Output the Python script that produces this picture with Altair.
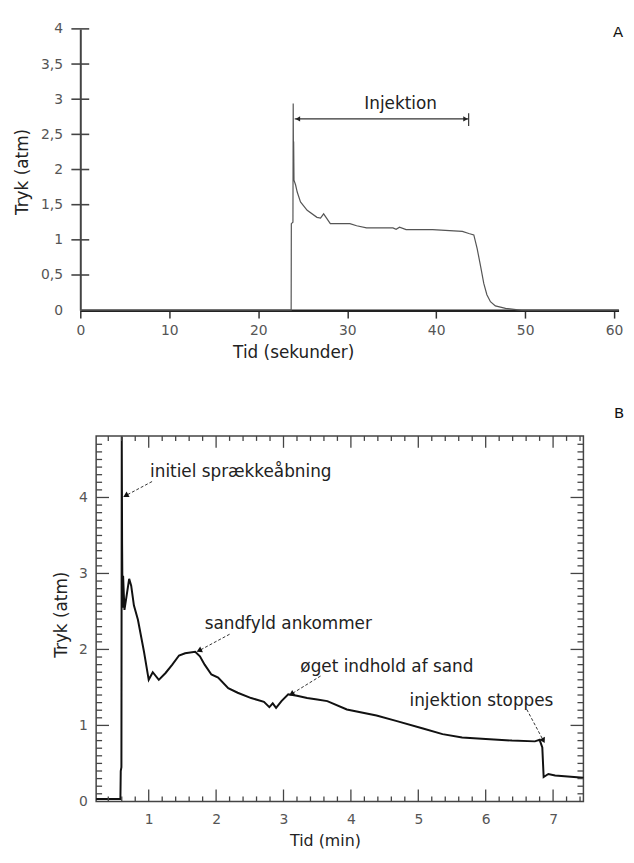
import altair as alt
import pandas as pd

# ---------------- Panel A : pressure (atm) vs time (s) ----------------
a_time = [0, 23.70, 23.72, 23.90, 23.93, 23.96, 23.98, 24.02, 24.2, 24.38, 24.75, 25.5, 26.6, 27.0,
          27.35, 28.1, 30.3, 31.06, 32.17, 35.14, 35.5, 35.88, 36.62, 39.6, 42.94, 43.67, 44.23,
          44.6, 45.0, 45.35, 45.7, 46.1, 46.65, 47.8, 49.2, 49.6, 60.5]
a_pressure = [0, 0, 1.23, 1.25, 2.94, 2.10, 2.40, 1.85, 1.78, 1.68, 1.54, 1.42, 1.32, 1.31,
              1.37, 1.23, 1.23, 1.20, 1.17, 1.17, 1.15, 1.18, 1.145, 1.145, 1.12, 1.09, 1.07,
              0.88, 0.62, 0.38, 0.22, 0.12, 0.06, 0.025, 0.005, 0, 0]
a_xticks = [0, 10, 20, 30, 40, 50, 60]
a_ylabels = [0, 0.5, 1, 1.5, 2, 2.5, 3, 3.5, 4]
a_yticks = [0.5, 1, 1.5, 2, 2.5, 3, 3.5, 4]
a_inj_start, a_inj_end, a_inj_level = 24.1, 43.65, 2.72
a_inj_text = "Injektion"
a_inj_text_t, a_inj_text_p = 36.0, 2.93
a_bar_low, a_bar_high = 2.62, 2.80

# ---------------- Panel B : pressure (atm) vs time (min) ----------------
b_time = [0.22, 0.58, 0.585, 0.595, 0.60, 0.605, 0.612, 0.62, 0.64, 0.71, 0.74, 0.78, 0.84, 0.93,
          1.0, 1.06, 1.15, 1.25, 1.35, 1.45, 1.54, 1.69, 1.76, 1.83, 1.93, 2.03, 2.18, 2.32, 2.52,
          2.71, 2.79, 2.84, 2.89, 2.97, 3.07, 3.2, 3.35, 3.5, 3.65, 3.94, 4.38, 4.67, 5.07, 5.36,
          5.65, 6.0, 6.39, 6.73, 6.80, 6.84, 6.86, 6.93, 7.03, 7.45]
b_pressure = [0.03, 0.03, 0.4, 0.45, 4.8, 3.4, 2.55, 2.97, 2.52, 2.93, 2.84, 2.58, 2.39, 1.97,
              1.60, 1.70, 1.60, 1.69, 1.80, 1.92, 1.95, 1.97, 1.91, 1.80, 1.67, 1.63, 1.49, 1.43, 1.36,
              1.31, 1.24, 1.29, 1.23, 1.32, 1.41, 1.39, 1.36, 1.34, 1.32, 1.21, 1.13, 1.06, 0.96, 0.885,
              0.84, 0.82, 0.80, 0.79, 0.81, 0.71, 0.32, 0.36, 0.34, 0.31]
b_xmajor = [1, 2, 3, 4, 5, 6, 7]
b_xminor = [0.4, 0.6, 0.8, 1.2, 1.4, 1.6, 1.8, 2.2, 2.4, 2.6, 2.8, 3.2, 3.4, 3.6, 3.8,
            4.2, 4.4, 4.6, 4.8, 5.2, 5.4, 5.6, 5.8, 6.2, 6.4, 6.6, 6.8, 7.2, 7.4]
b_ymajor = [0, 1, 2, 3, 4]
b_yminor = [round(0.1 * i, 1) for i in range(1, 48) if i % 10 != 0]

b_notes = ["initiel sprækkeåbning", "sandfyld ankommer", "øget indhold af sand", "injektion stoppes"]
b_note_t = [1.02, 1.83, 3.25, 4.87]
b_note_p = [4.34, 2.34, 1.77, 1.32]
b_arrow_t1 = [1.05, 2.20, 3.55, 6.61]
b_arrow_p1 = [4.21, 2.20, 1.65, 1.21]
b_arrow_t2 = [0.67, 1.76, 3.13, 6.85]
b_arrow_p2 = [4.03, 1.99, 1.42, 0.81]
b_arrow_angle = [242, 244, 238, 152]

# ---------------- layout (pixels inside the single view) ----------------
W, H = 624, 843
FONT = "DejaVu Sans"
A_L, A_R60, A_T, A_B = 73, 612, 17, 301        # x of 0 and 60 s; y of 4 and 0 atm
B_L, B_R, B_T, B_B = 89, 581, 428, 797          # panel B frame
B_XDOM = [0.22, 7.45]
B_YDOM = [0, 4.81]
A_XDOM = [0, 60.5]
A_XR = [A_L, A_L + (A_R60 - A_L) * 60.5 / 60]


def xa(axis=None):
    return alt.X("t:Q", scale=alt.Scale(domain=A_XDOM, range=A_XR, nice=False, zero=False), axis=axis)


def ya(axis=None):
    return alt.Y("p:Q", scale=alt.Scale(domain=[0, 4], range=[A_B, A_T], nice=False, zero=False), axis=axis)


def xb(axis=None):
    return alt.X("t:Q", scale=alt.Scale(domain=B_XDOM, range=[B_L, B_R], nice=False, zero=False), axis=axis)


def yb(axis=None):
    return alt.Y("p:Q", scale=alt.Scale(domain=B_YDOM, range=[B_B, B_T], nice=False, zero=False), axis=axis)


one = pd.DataFrame({"k": [0]})
layers = []

# ======================= Panel A =======================
axA_x = alt.Axis(orient="bottom", offset=-(H - A_B), values=a_xticks, format="d",
                 title="Tid (sekunder)", tickSize=8, tickColor="#333", tickWidth=1.5,
                 domainColor="#222", domainWidth=2.5, labelPadding=6, labelFlush=False,
                 grid=False, titleX=288, titleY=43, titleBaseline="middle", titleAlign="center")
axA_y = alt.Axis(orient="left", offset=-A_L, values=a_ylabels,
                 labelExpr="replace(format(datum.value, '~g'), '.', ',')",
                 ticks=False, domainColor="#444", domainWidth=2,
                 labelPadding=18, grid=False, title="Tryk (atm)", titleX=-58, titleY=161,
                 titleBaseline="middle", titleAlign="center")

dfA = pd.DataFrame({"t": a_time, "p": a_pressure, "i": list(range(len(a_time)))})
layers.append(alt.Chart(dfA).mark_line(color="#555", strokeWidth=1.2).encode(
    x=xa(axA_x), y=ya(axA_y), order="i:Q"))

# crossing y ticks of panel A
layers.append(alt.Chart(pd.DataFrame({"p": a_yticks})).mark_rule(color="#444", strokeWidth=1.6).encode(
    y=ya(), x=alt.value(A_L - 9), x2=alt.value(A_L + 9)))

# injection arrow
layers.append(alt.Chart(pd.DataFrame({"t": [a_inj_start], "t2": [a_inj_end], "p": [a_inj_level]})).mark_rule(
    color="#333", strokeWidth=1.2).encode(x=xa(), x2=alt.X2("t2"), y=ya()))
layers.append(alt.Chart(pd.DataFrame({"t": [a_inj_end], "p": [a_bar_low], "p2": [a_bar_high]})).mark_rule(
    color="#333", strokeWidth=1.2).encode(x=xa(), y=ya(), y2=alt.Y2("p2")))
layers.append(alt.Chart(pd.DataFrame({"t": [a_inj_start + 0.35, a_inj_end - 0.35],
                                      "p": [a_inj_level, a_inj_level],
                                      "sh": ["triangle-left", "triangle-right"]})).mark_point(
    filled=True, size=28, color="#222", opacity=1).encode(
    x=xa(), y=ya(), shape=alt.Shape("sh:N", scale=None)))
layers.append(alt.Chart(pd.DataFrame({"t": [a_inj_text_t], "p": [a_inj_text_p], "s": [a_inj_text]})).mark_text(
    font=FONT, fontSize=17, color="#222", align="center", baseline="middle").encode(
    x=xa(), y=ya(), text="s:N"))

layers.append(alt.Chart(one).mark_text(text="A", font=FONT, fontSize=15, color="#111",
                                       align="center", baseline="middle").encode(
    x=alt.value(616), y=alt.value(20)))

# ======================= Panel B =======================
axB_x = alt.Axis(orient="bottom", offset=-(H - B_B), values=b_xmajor, format="d", ticks=False,
                 domain=False, labelPadding=11, labelFlush=False, grid=False, title="Tid (min)",
                 titleX=320, titleY=40, titleBaseline="middle", titleAlign="center",
                 titleFontSize=16)
axB_y = alt.Axis(orient="left", offset=-B_L, values=b_ymajor, format="d", ticks=False,
                 domain=False, labelPadding=9, grid=False, title="Tryk (atm)", titleX=-35,
                 titleY=608, titleBaseline="middle", titleAlign="center")

layers.append(alt.Chart(one).mark_rect(filled=False, stroke="#444", strokeWidth=1.5).encode(
    x=alt.value(B_L), x2=alt.value(B_R), y=alt.value(B_T), y2=alt.value(B_B)))

dfB = pd.DataFrame({"t": b_time, "p": b_pressure, "i": list(range(len(b_time)))})
layers.append(alt.Chart(dfB).mark_line(color="#111", strokeWidth=2).encode(
    x=xb(axB_x), y=yb(axB_y), order="i:Q"))

tick_style = dict(color="#444", strokeWidth=1.3)
ymin_df = pd.DataFrame({"p": b_yminor})
ymaj_df = pd.DataFrame({"p": b_ymajor[1:]})
xmin_df = pd.DataFrame({"t": b_xminor})
xmaj_df = pd.DataFrame({"t": b_xmajor})
layers += [
    alt.Chart(ymin_df).mark_rule(**tick_style).encode(y=yb(), x=alt.value(B_L), x2=alt.value(B_L + 6)),
    alt.Chart(ymin_df).mark_rule(**tick_style).encode(y=yb(), x=alt.value(B_R - 6), x2=alt.value(B_R)),
    alt.Chart(ymaj_df).mark_rule(**tick_style).encode(y=yb(), x=alt.value(B_L), x2=alt.value(B_L + 13)),
    alt.Chart(ymaj_df).mark_rule(**tick_style).encode(y=yb(), x=alt.value(B_R - 13), x2=alt.value(B_R)),
    alt.Chart(xmin_df).mark_rule(**tick_style).encode(x=xb(), y=alt.value(B_B - 5), y2=alt.value(B_B)),
    alt.Chart(xmin_df).mark_rule(**tick_style).encode(x=xb(), y=alt.value(B_T), y2=alt.value(B_T + 5)),
    alt.Chart(xmaj_df).mark_rule(**tick_style).encode(x=xb(), y=alt.value(B_B - 12), y2=alt.value(B_B)),
    alt.Chart(xmaj_df).mark_rule(**tick_style).encode(x=xb(), y=alt.value(B_T), y2=alt.value(B_T + 12)),
]

arr_df = pd.DataFrame({"t": b_arrow_t1, "p": b_arrow_p1, "t2": b_arrow_t2, "p2": b_arrow_p2})
layers.append(alt.Chart(arr_df).mark_rule(color="#333", strokeWidth=1, strokeDash=[3, 2]).encode(
    x=xb(), y=yb(), x2=alt.X2("t2"), y2=alt.Y2("p2")))
head_df = pd.DataFrame({"t": b_arrow_t2, "p": b_arrow_p2, "ang": b_arrow_angle})
layers.append(alt.Chart(head_df).mark_point(shape="triangle", filled=True, size=40, color="#111",
                                            opacity=1).encode(
    x=xb(), y=yb(), angle=alt.Angle("ang:Q", scale=None)))
notes_df = pd.DataFrame({"s": b_notes, "t": b_note_t, "p": b_note_p})
layers.append(alt.Chart(notes_df).mark_text(font=FONT, fontSize=17, color="#222", align="left",
                                            baseline="middle").encode(x=xb(), y=yb(), text="s:N"))

layers.append(alt.Chart(one).mark_text(text="B", font=FONT, fontSize=15, color="#111",
                                       align="center", baseline="middle").encode(
    x=alt.value(617), y=alt.value(405)))

chart = alt.layer(*layers).resolve_scale(x="independent", y="independent").properties(
    width=W, height=H, padding=0, autosize=alt.AutoSizeParams(type="none")
).configure_view(stroke="transparent").configure_axis(
    labelFont=FONT, labelFontSize=14, labelColor="#555",
    titleFont=FONT, titleFontSize=17, titleFontWeight="normal", titleColor="#222"
)

chart.save("out.html", embed_options={"renderer": "svg", "actions": False})
